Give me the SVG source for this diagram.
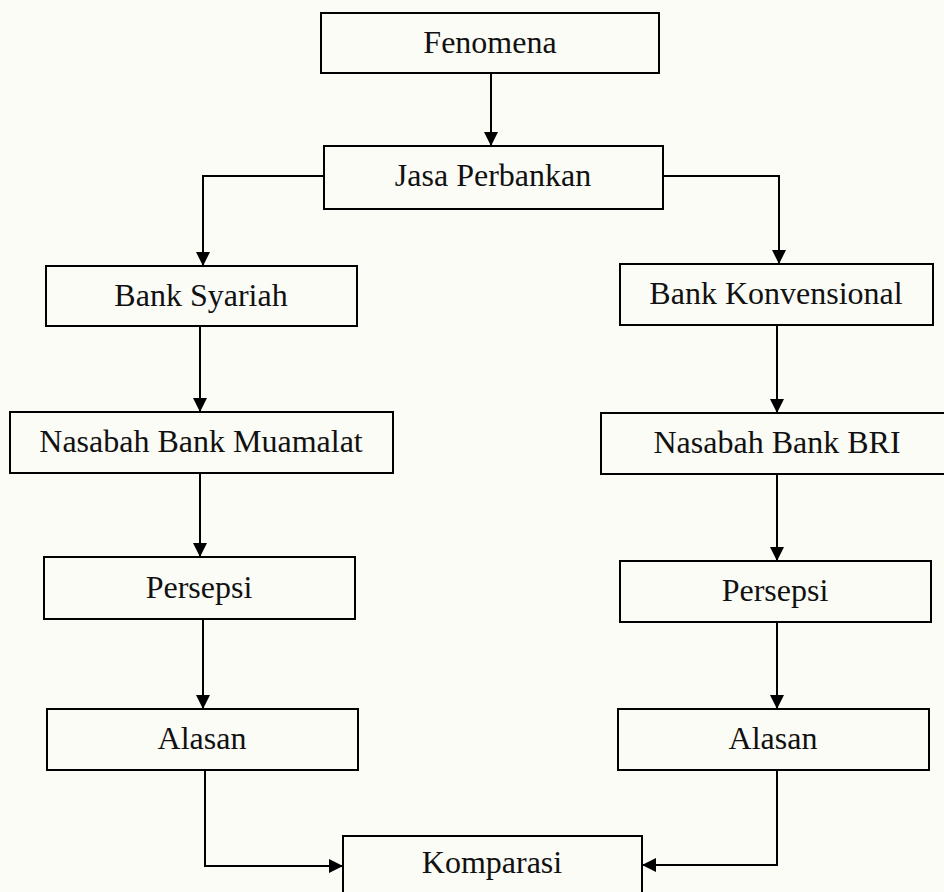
<svg xmlns="http://www.w3.org/2000/svg" width="944" height="892" viewBox="0 0 944 892">
  <style>
    .box { fill: none; stroke: #000; stroke-width: 2; }
    .lbl { font-family: "Liberation Serif", "Times New Roman", serif; font-size: 32px; fill: #111; text-anchor: middle; }
    .conn { fill: none; stroke: #000; stroke-width: 2; marker-end: url(#arrow); }
  </style>
  <defs>
    <marker id="arrow" markerUnits="userSpaceOnUse" markerWidth="15" markerHeight="15" refX="14" refY="7" orient="auto">
      <path d="M0,0 L14,7 L0,14 z" fill="#000"/>
    </marker>
  </defs>
  <rect x="0" y="0" width="944" height="892" fill="#fcfcf7"/>

  <g id="connectors">
    <path class="conn" d="M491,73 V146"/>
    <path class="conn" d="M324,176 H203 V266"/>
    <path class="conn" d="M663,176 H779 V264"/>
    <path class="conn" d="M200,326 V412"/>
    <path class="conn" d="M777,325 V413"/>
    <path class="conn" d="M200,473 V557"/>
    <path class="conn" d="M777,474 V561"/>
    <path class="conn" d="M203,619 V709"/>
    <path class="conn" d="M777,622 V709"/>
    <path class="conn" d="M205,770 V866 H343"/>
    <path class="conn" d="M777,770 V865 H642"/>
  </g>

  <g id="fenomena">
    <rect class="box" x="321" y="13" width="338" height="60"/>
    <text class="lbl" x="490" y="53">Fenomena</text>
  </g>
  <g id="jasa-perbankan">
    <rect class="box" x="324" y="146" width="339" height="63"/>
    <text class="lbl" x="493" y="186">Jasa Perbankan</text>
  </g>
  <g id="bank-syariah">
    <rect class="box" x="46" y="266" width="311" height="60"/>
    <text class="lbl" x="201" y="306">Bank Syariah</text>
  </g>
  <g id="bank-konvensional">
    <rect class="box" x="620" y="264" width="313" height="61"/>
    <text class="lbl" x="776" y="304">Bank Konvensional</text>
  </g>
  <g id="nasabah-muamalat">
    <rect class="box" x="10" y="412" width="383" height="61"/>
    <text class="lbl" x="201" y="452">Nasabah Bank Muamalat</text>
  </g>
  <g id="nasabah-bri">
    <rect class="box" x="601" y="413" width="360" height="61"/>
    <text class="lbl" x="777" y="453">Nasabah Bank BRI</text>
  </g>
  <g id="persepsi-kiri">
    <rect class="box" x="44" y="557" width="311" height="62"/>
    <text class="lbl" x="199" y="598">Persepsi</text>
  </g>
  <g id="persepsi-kanan">
    <rect class="box" x="620" y="561" width="311" height="61"/>
    <text class="lbl" x="775" y="601">Persepsi</text>
  </g>
  <g id="alasan-kiri">
    <rect class="box" x="47" y="709" width="311" height="61"/>
    <text class="lbl" x="202" y="749">Alasan</text>
  </g>
  <g id="alasan-kanan">
    <rect class="box" x="618" y="709" width="311" height="61"/>
    <text class="lbl" x="773" y="749">Alasan</text>
  </g>
  <g id="komparasi">
    <rect class="box" x="343" y="836" width="299" height="80"/>
    <text class="lbl" x="492" y="873">Komparasi</text>
  </g>
</svg>
